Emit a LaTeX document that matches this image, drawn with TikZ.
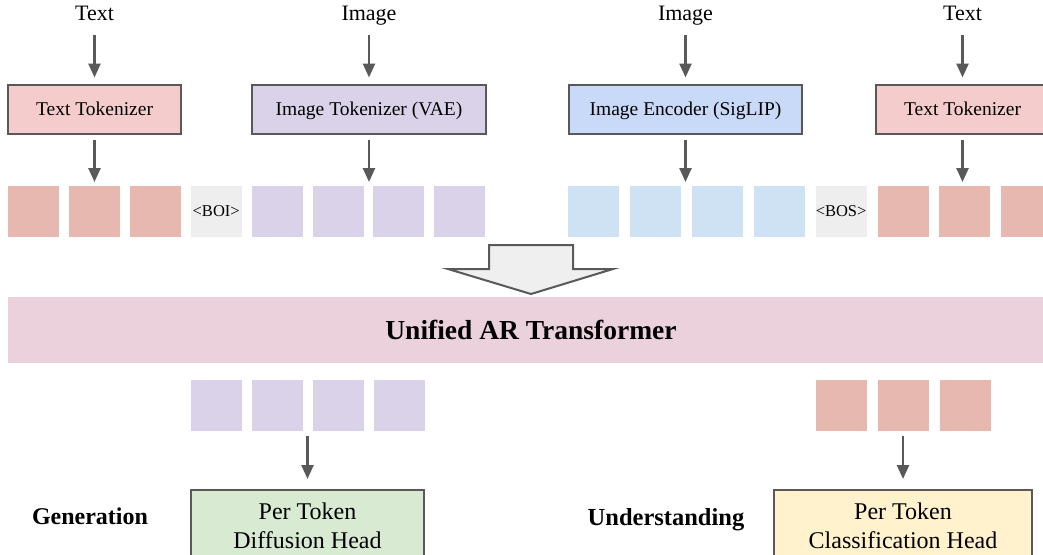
\documentclass[tikz,border=0pt]{standalone}
\usepackage{fontspec}
\setmainfont{Liberation Serif}
\usepackage{tikz}
\usetikzlibrary{positioning,arrows.meta}
\definecolor{edge}{HTML}{595959}
\definecolor{textbox}{HTML}{F4CCCC}
\definecolor{vaebox}{HTML}{D9D2E9}
\definecolor{sigbox}{HTML}{C9DAF8}
\definecolor{texttok}{HTML}{E6B8AF}
\definecolor{vaetok}{HTML}{D9D2E9}
\definecolor{sigtok}{HTML}{CFE2F3}
\definecolor{spectok}{HTML}{EEEEEE}
\definecolor{arband}{HTML}{EAD1DC}
\definecolor{diffbox}{HTML}{D9EAD3}
\definecolor{clsbox}{HTML}{FFF2CC}
\definecolor{blockfill}{HTML}{EFEFEF}
\tikzset{
  every node/.style={
    inner sep=0pt
  },
  inlabel/.style={font=\fontsize{22}{24}\selectfont, text height=15pt, text depth=5pt},
  box/.style={draw=edge, line width=2pt, minimum height=49pt,
    text height=13pt, text depth=1pt, font=\fontsize{19.5}{22}\selectfont},
  headbox/.style={draw=edge, line width=2pt, minimum height=72pt, align=center,
    font=\fontsize{24}{29}\selectfont},
  tok/.style={minimum size=51pt, outer sep=0pt, font=\fontsize{16.5}{18}\selectfont},
  flow/.style={draw=edge, line width=2.5pt, -{Triangle[length=14pt,width=12pt]}}
}

\begin{document}
\begin{tikzpicture}[x=1pt,y=-1pt]
  \useasboundingbox (0,0) rectangle (1043,554);
  \clip (0,0) rectangle (1043,554);
  % inputs and encoders
  \node [inlabel, anchor=base] (InTextL) at (94.5,20) {Text};
  \node [inlabel, anchor=base] (InImgL) at (369,20) {Image};
  \node [inlabel, anchor=base] (InImgR) at (685.5,20) {Image};
  \node [inlabel, anchor=base] (InTextR) at (962.5,20) {Text};
  \node [box, fill=textbox, minimum width=173pt] (TextTokL) at (94.5,109) {Text Tokenizer};
  \node [box, fill=vaebox, minimum width=234pt] (ImgTok) at (369,109) {Image Tokenizer (VAE)};
  \node [box, fill=sigbox, minimum width=233pt] (ImgEnc) at (685.5,109) {Image Encoder (SigLIP)};
  \node [box, fill=textbox, minimum width=173pt] (TextTokR) at (962.5,109) {Text Tokenizer};
  \draw [flow, shorten <=10pt, shorten >=6pt] (InTextL) -- (TextTokL);
  \draw [flow, shorten <=10pt, shorten >=6pt] (InImgL) -- (ImgTok);
  \draw [flow, shorten <=10pt, shorten >=6pt] (InImgR) -- (ImgEnc);
  \draw [flow, shorten <=10pt, shorten >=6pt] (InTextR) -- (TextTokR);
  % token sequences
  \node [tok, fill=texttok] (L1) at (33.5,211.5) {};
  \foreach \c/\t [count=\n from 2, remember=\n as \p (initially 1)] in
    {texttok/,texttok/,spectok/{<BOI>},vaetok/,vaetok/,vaetok/,vaetok/}
    \node [tok, fill=\c, right=9.9pt of L\p] (L\n) {\t};
  \node [tok, fill=sigtok] (R1) at (593.5,211.5) {};
  \foreach \c/\t [count=\n from 2, remember=\n as \p (initially 1)] in
    {sigtok/,sigtok/,sigtok/,spectok/{<BOS>},texttok/,texttok/,texttok/}
    \node [tok, fill=\c, right=10.9pt of R\p] (R\n) {\t};
  \draw [flow, shorten <=5pt, shorten >=4pt] (TextTokL) -- (TextTokL |- L2.north);
  \draw [flow, shorten <=5pt, shorten >=4pt] (ImgTok) -- (ImgTok |- L6.north);
  \draw [flow, shorten <=5pt, shorten >=4pt] (ImgEnc) -- (ImgEnc |- R2.north);
  \draw [flow, shorten <=5pt, shorten >=4pt] (TextTokR) -- (TextTokR |- R7.north);
  % transformer
  \draw [draw=edge, line width=2pt, fill=blockfill, line join=miter]
    (489,245) -- (573,245) -- (573,269) -- (613,269) -- (531,294) -- (448,269) -- (489,269) -- cycle;
  \node [fill=arband, minimum width=1046pt, minimum height=66pt,
    font=\fontsize{27.5}{30}\selectfont\bfseries] (Transf) at (531,330) {Unified AR Transformer};
  % output heads
  \node [tok, fill=vaetok] (G1) at (216.5,405.5) {};
  \foreach \n [remember=\n as \p (initially 1)] in {2,3,4}
    \node [tok, fill=vaetok, right=9.9pt of G\p] (G\n) {};
  \node [tok, fill=texttok] (U1) at (841.5,405.5) {};
  \foreach \n [remember=\n as \p (initially 1)] in {2,3}
    \node [tok, fill=texttok, right=10.9pt of U\p] (U\n) {};
  \node [headbox, fill=diffbox, minimum width=233pt, anchor=north] (DiffHead) at (307.5,489) {Per Token\\Diffusion Head};
  \node [headbox, fill=clsbox, minimum width=258pt, anchor=north] (ClsHead) at (903,489) {Per Token\\Classification Head};
  \draw [flow, shorten <=5pt, shorten >=10pt] (DiffHead |- G1.south) -- (DiffHead);
  \draw [flow, shorten <=5pt, shorten >=10pt] (ClsHead |- U1.south) -- (ClsHead);
  \node [anchor=base, font=\fontsize{24}{26}\selectfont\bfseries] (GenL) at (90,524) {Generation};
  \node [anchor=base, font=\fontsize{24.5}{27}\selectfont\bfseries] (UndL) at (666,525) {Understanding};
\end{tikzpicture}
\end{document}
